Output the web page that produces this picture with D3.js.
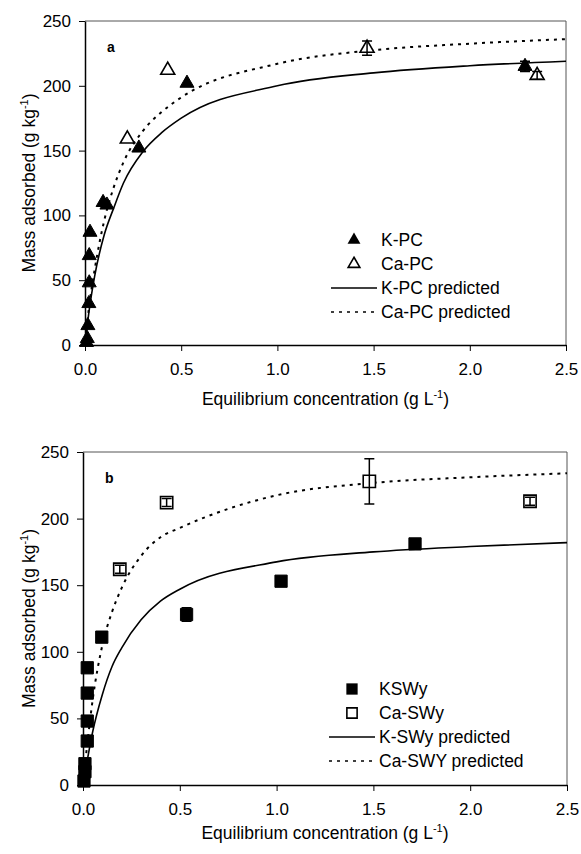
<!DOCTYPE html>
<html>
<head>
<meta charset="utf-8">
<script src="https://cdn.jsdelivr.net/npm/d3@7"></script>
<style>
  body { margin: 0; background: #fff; }
  svg { display: block; font-family: "Liberation Sans", Arial, sans-serif; }
</style>
</head>
<body>
<div id="chart"></div>
<script>
// ---- data ----
const xTicks = [0, 0.5, 1.0, 1.5, 2.0, 2.5];
const yTicks = [0, 50, 100, 150, 200, 250];

// panel a
const kpcX   = [0.008, 0.012, 0.015, 0.02, 0.022, 0.022, 0.026, 0.094, 0.114, 0.28, 0.53, 2.287];
const kpcY   = [2, 5, 15, 32, 48, 69, 87, 110, 108, 152, 202, 215];
const kpcErr = [0, 0, 0, 0, 0, 0, 0, 0, 0, 0, 0, 4];
const capcX   = [0.22, 0.43, 1.466, 2.35];
const capcY   = [159, 212, 229, 208];
const capcErr = [0, 0, 5.5, 3];
const kpcPredX = [0, 0.01, 0.02, 0.05, 0.1, 0.15, 0.2, 0.3, 0.4, 0.5, 1.0, 1.5, 2.0, 2.5];
const kpcPredY = [0, 13, 25, 53, 85, 106, 125, 149, 164, 175, 200, 210, 215.5, 219];
const capcPredX = [0, 0.01, 0.02, 0.05, 0.1, 0.15, 0.2, 0.3, 0.4, 0.5, 1.0, 1.5, 2.0, 2.5];
const capcPredY = [0, 15, 28, 58, 96, 122, 141, 165, 180, 191, 217, 227.5, 232.5, 236];

// panel b
const kswyX   = [0.005, 0.01, 0.01, 0.022, 0.022, 0.022, 0.022, 0.097, 0.535, 1.023, 1.715];
const kswyY   = [3, 10, 16, 33, 48, 69, 88, 111, 128, 153, 181];
const kswyErr = [0, 0, 0, 0, 0, 0, 0, 0, 5, 0, 3];
const caswyX   = [0.19, 0.432, 1.479, 2.309];
const caswyY   = [162, 212, 228, 213];
const caswyErr = [3, 3, 17, 3];
const kswyPredX = [0, 0.01, 0.02, 0.05, 0.1, 0.15, 0.2, 0.3, 0.4, 0.5, 1.0, 1.5, 2.0, 2.5];
const kswyPredY = [0, 9, 17, 40, 68, 89, 103, 124, 138, 147, 167.5, 175, 179, 182];
const caswyPredX = [0, 0.01, 0.02, 0.05, 0.1, 0.15, 0.2, 0.3, 0.4, 0.5, 1.0, 1.5, 2.0, 2.5];
const caswyPredY = [0, 15, 28, 64, 105, 130, 148, 172, 186, 193, 217.5, 226.8, 231, 234];

const zip = (xs, ys, es) => xs.map((x, i) => ({ x: x, y: ys[i], e: es ? es[i] : 0 }));

const svg = d3.select("#chart")
  .append("svg")
  .attr("width", 581)
  .attr("height", 854);

svg.append("rect").attr("width", 581).attr("height", 854).attr("fill", "#fff");

function drawPanel(cfg) {
  const x = d3.scaleLinear().domain([0, 2.5]).range([cfg.left, cfg.right]);
  const y = d3.scaleLinear().domain([0, 250]).range([cfg.bottom, cfg.top]);
  const g = svg.append("g");

  // frame top / right
  g.append("path")
    .attr("d", `M${cfg.left},${cfg.top}H${cfg.right}V${cfg.bottom}`)
    .attr("fill", "none")
    .attr("stroke", "#555")
    .attr("stroke-width", 1);

  // axes
  const xAxis = g.append("g")
    .attr("transform", `translate(0,${cfg.bottom})`)
    .call(d3.axisBottom(x).tickValues(xTicks).tickFormat(d3.format(".1f")).tickSize(6).tickPadding(12).tickSizeOuter(0));
  const yAxis = g.append("g")
    .attr("transform", `translate(${cfg.left},0)`)
    .call(d3.axisLeft(y).tickValues(yTicks).tickSize(6).tickPadding(8).tickSizeOuter(0));
  [xAxis, yAxis].forEach(a => {
    a.select(".domain").attr("stroke", "#000").attr("stroke-width", 1.5);
    a.selectAll(".tick line").attr("stroke", "#000").attr("stroke-width", 1);
    a.selectAll(".tick text").attr("font-size", 17).attr("fill", "#000").attr("font-family", "Liberation Sans, Arial, sans-serif");
  });

  // titles
  const xt = g.append("text")
    .attr("x", (cfg.left + cfg.right) / 2)
    .attr("y", cfg.bottom + cfg.xTitleOffset)
    .attr("text-anchor", "middle")
    .attr("font-size", 17.5);
  xt.append("tspan").text("Equilibrium concentration (g L");
  xt.append("tspan").attr("font-size", 11).attr("dy", -7).text("-1");
  xt.append("tspan").attr("dy", 7).text(")");

  const ymid = (cfg.top + cfg.bottom) / 2;
  const yt = g.append("text")
    .attr("transform", `translate(35,${ymid}) rotate(-90)`)
    .attr("text-anchor", "middle")
    .attr("font-size", 17.5);
  yt.append("tspan").text("Mass adsorbed (g kg");
  yt.append("tspan").attr("font-size", 11).attr("dy", -7).text("-1");
  yt.append("tspan").attr("dy", 7).text(")");

  g.append("text")
    .attr("x", cfg.left + 22)
    .attr("y", cfg.top + 31)
    .attr("font-size", 14)
    .attr("font-weight", "bold")
    .text(cfg.tag);

  // predicted lines
  const line = d3.line().x(d => x(d.x)).y(d => y(d.y)).curve(d3.curveMonotoneX);
  g.append("path")
    .datum(zip(cfg.predSolidX, cfg.predSolidY))
    .attr("fill", "none").attr("stroke", "#000").attr("stroke-width", 1.6)
    .attr("d", line);
  g.append("path")
    .datum(zip(cfg.predDashX, cfg.predDashY))
    .attr("fill", "none").attr("stroke", "#000").attr("stroke-width", 2)
    .attr("stroke-dasharray", "3,5")
    .attr("d", line);

  // points
  const sym = d3.symbol().type(cfg.symbol).size(cfg.symSize);
  function points(data, filled) {
    const pg = g.append("g");
    pg.selectAll("path.pt")
      .data(data).enter().append("path")
      .attr("class", "pt")
      .attr("transform", d => `translate(${x(d.x)},${y(d.y)})`)
      .attr("d", sym)
      .attr("fill", filled ? "#000" : "#fff")
      .attr("stroke", "#000")
      .attr("stroke-width", filled ? 1 : 1.6);
    const eb = data.filter(d => d.e > 0);
    pg.selectAll("path.err")
      .data(eb).enter().append("path")
      .attr("class", "err")
      .attr("d", d => `M${x(d.x)},${y(d.y - d.e)}V${y(d.y + d.e)}M${x(d.x) - 5},${y(d.y - d.e)}h10M${x(d.x) - 5},${y(d.y + d.e)}h10`)
      .attr("stroke", "#000").attr("stroke-width", 1.5).attr("fill", "none");
  }
  points(zip(cfg.openX, cfg.openY, cfg.openErr), false);
  points(zip(cfg.filledX, cfg.filledY, cfg.filledErr), true);

  // legend
  const lg = g.append("g").attr("font-size", 17.5);
  const lx = cfg.legendX, ly = cfg.legendY, step = 24;
  lg.append("path").attr("transform", `translate(${lx - 27},${ly})`).attr("d", d3.symbol().type(cfg.symbol).size(cfg.symSize * 0.85)).attr("fill", "#000");
  lg.append("path").attr("transform", `translate(${lx - 27},${ly + step})`).attr("d", d3.symbol().type(cfg.symbol).size(cfg.symSize * 0.7)).attr("fill", "#fff").attr("stroke", "#000").attr("stroke-width", 1.6);
  lg.append("line").attr("x1", lx - 50).attr("x2", lx - 4).attr("y1", ly + 2 * step).attr("y2", ly + 2 * step).attr("stroke", "#000").attr("stroke-width", 1.6);
  lg.append("line").attr("x1", lx - 50).attr("x2", lx - 4).attr("y1", ly + 3 * step).attr("y2", ly + 3 * step).attr("stroke", "#000").attr("stroke-width", 1.5).attr("stroke-dasharray", "3,5");
  cfg.labels.forEach((t, i) => {
    lg.append("text").attr("x", lx).attr("y", ly + i * step + 6).text(t);
  });
}

drawPanel({
  left: 85, right: 566, top: 21, bottom: 345, tag: "a", xTitleOffset: 60,
  symbol: d3.symbolTriangle, symSize: 85,
  filledX: kpcX, filledY: kpcY, filledErr: kpcErr,
  openX: capcX, openY: capcY, openErr: capcErr,
  predSolidX: kpcPredX, predSolidY: kpcPredY,
  predDashX: capcPredX, predDashY: capcPredY,
  legendX: 381, legendY: 240,
  labels: ["K-PC", "Ca-PC", "K-PC predicted", "Ca-PC predicted"]
});

drawPanel({
  left: 83, right: 567, top: 452, bottom: 785, tag: "b", xTitleOffset: 54,
  symbol: d3.symbolSquare, symSize: 150,
  filledX: kswyX, filledY: kswyY, filledErr: kswyErr,
  openX: caswyX, openY: caswyY, openErr: caswyErr,
  predSolidX: kswyPredX, predSolidY: kswyPredY,
  predDashX: caswyPredX, predDashY: caswyPredY,
  legendX: 379, legendY: 689,
  labels: ["KSWy", "Ca-SWy", "K-SWy predicted", "Ca-SWY predicted"]
});
</script>
</body>
</html>
